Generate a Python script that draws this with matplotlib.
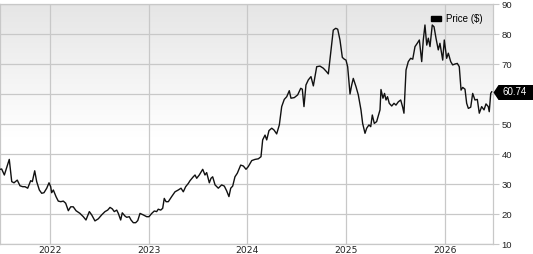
#!/usr/bin/env python3
"""Weekly share price line chart, 2021-2026."""

import matplotlib

matplotlib.use("Agg")
import matplotlib.pyplot as plt
import numpy as np
from matplotlib.patches import Patch
from matplotlib.path import Path
from matplotlib.transforms import blended_transform_factory

plt.rcParams["font.family"] = ["Liberation Sans", "DejaVu Sans"]

# decimal years and closing prices
dates = [
    2021.490, 2021.507, 2021.534, 2021.584, 2021.609, 2021.632, 2021.665, 2021.693,
    2021.720, 2021.744, 2021.771, 2021.801, 2021.818, 2021.842, 2021.862, 2021.889,
    2021.913, 2021.936, 2021.964, 2021.987, 2022.004, 2022.014, 2022.031, 2022.058,
    2022.081, 2022.106, 2022.132, 2022.156, 2022.183, 2022.207, 2022.233, 2022.261,
    2022.301, 2022.335, 2022.362, 2022.396, 2022.420, 2022.453, 2022.487, 2022.521,
    2022.555, 2022.582, 2022.606, 2022.629, 2022.649, 2022.674, 2022.690, 2022.714,
    2022.730, 2022.758, 2022.775, 2022.801, 2022.819, 2022.842, 2022.866, 2022.887,
    2022.910, 2022.943, 2022.978, 2023.001, 2023.029, 2023.055, 2023.079, 2023.095,
    2023.120, 2023.140, 2023.156, 2023.174, 2023.197, 2023.231, 2023.265, 2023.298,
    2023.326, 2023.349, 2023.373, 2023.400, 2023.417, 2023.450, 2023.468, 2023.485,
    2023.511, 2023.546, 2023.569, 2023.586, 2023.613, 2023.630, 2023.647, 2023.671,
    2023.704, 2023.738, 2023.765, 2023.789, 2023.812, 2023.830, 2023.850, 2023.873,
    2023.897, 2023.931, 2023.958, 2023.985, 2024.008, 2024.043, 2024.076, 2024.110,
    2024.137, 2024.154, 2024.178, 2024.195, 2024.218, 2024.246, 2024.269, 2024.296,
    2024.323, 2024.347, 2024.373, 2024.398, 2024.424, 2024.441, 2024.475, 2024.509,
    2024.540, 2024.556, 2024.573, 2024.593, 2024.617, 2024.644, 2024.668, 2024.702,
    2024.735, 2024.769, 2024.803, 2024.820, 2024.847, 2024.870, 2024.895, 2024.915,
    2024.938, 2024.962, 2024.982, 2024.999, 2025.016, 2025.040, 2025.057, 2025.073,
    2025.101, 2025.124, 2025.151, 2025.168, 2025.192, 2025.209, 2025.232, 2025.250,
    2025.266, 2025.286, 2025.310, 2025.344, 2025.354, 2025.374, 2025.390, 2025.405,
    2025.420, 2025.438, 2025.463, 2025.486, 2025.506, 2025.530, 2025.554, 2025.574,
    2025.587, 2025.608, 2025.631, 2025.655, 2025.676, 2025.699, 2025.722, 2025.743,
    2025.767, 2025.783, 2025.800, 2025.818, 2025.834, 2025.851, 2025.874, 2025.892,
    2025.912, 2025.935, 2025.952, 2025.980, 2025.996, 2026.020, 2026.037, 2026.061,
    2026.081, 2026.105, 2026.128, 2026.148, 2026.166, 2026.183, 2026.206, 2026.223,
    2026.240, 2026.264, 2026.284, 2026.307, 2026.331, 2026.351, 2026.375, 2026.399,
    2026.419, 2026.442, 2026.452, 2026.467, 2026.477,
]
prices = [
    34.9, 35.0, 33.0, 38.2, 30.8, 30.4, 31.3, 29.4,
    29.1, 29.1, 28.6, 31.1, 30.8, 34.4, 30.8, 28.0,
    26.9, 27.1, 28.6, 30.4, 29.1, 27.1, 28.0, 25.8,
    24.3, 24.1, 24.3, 23.6, 21.1, 22.4, 22.4, 21.1,
    20.2, 19.1, 18.0, 20.8, 19.7, 17.7, 18.4, 19.7,
    20.8, 21.3, 22.2, 21.7, 20.8, 21.3, 20.2, 18.0,
    20.4, 19.3, 18.9, 19.1, 18.0, 17.1, 17.1, 17.8,
    20.2, 19.7, 19.1, 19.1, 20.2, 21.0, 20.8, 21.6,
    21.3, 21.9, 25.2, 24.1, 24.1, 25.8, 27.4, 28.0,
    28.6, 27.4, 29.1, 30.2, 31.1, 32.4, 33.0, 31.9,
    33.0, 34.9, 33.0, 33.8, 30.4, 31.9, 32.4, 29.7,
    28.6, 29.7, 29.3, 27.7, 25.8, 28.6, 29.3, 32.4,
    33.6, 36.3, 36.0, 34.9, 35.8, 37.8, 38.2, 38.4,
    39.1, 44.7, 46.3, 44.7, 47.8, 48.6, 48.0, 46.7,
    49.7, 55.8, 58.2, 59.1, 61.1, 58.6, 58.8, 59.7,
    61.9, 61.6, 55.8, 63.0, 64.7, 65.8, 62.7, 69.1,
    69.3, 68.6, 67.4, 66.7, 74.7, 81.3, 81.9, 81.6,
    78.0, 72.2, 71.6, 71.3, 69.1, 60.0, 63.0, 65.2,
    62.4, 59.7, 54.7, 50.2, 46.9, 48.6, 49.7, 49.1,
    53.0, 50.2, 50.8, 54.7, 61.5, 58.6, 60.2, 58.0,
    59.1, 56.9, 56.0, 56.9, 56.3, 57.4, 58.0, 55.6,
    53.6, 68.0, 70.8, 71.9, 71.6, 75.8, 76.9, 78.0,
    70.8, 78.0, 83.0, 76.3, 78.6, 75.8, 83.0, 82.4,
    78.6, 74.7, 76.9, 71.3, 78.0, 71.9, 73.6, 70.8,
    69.7, 70.0, 70.2, 69.1, 61.3, 62.2, 61.6, 56.9,
    55.2, 55.6, 60.2, 58.0, 58.2, 53.6, 55.8, 54.7,
    56.7, 55.8, 54.1, 60.2, 60.74,
]
year_ticks = [2022, 2023, 2024, 2025, 2026]
price_ticks = [10, 20, 30, 40, 50, 60, 70, 80, 90]
last_label = "60.74"

GRID = "#c8c8c8"
TEXT = "#222222"

fig = plt.figure(figsize=(5.33, 2.54), dpi=100)
ax = fig.add_axes([0.0, 10 / 254, 492.5 / 533, 240 / 254])

# light gray wash at the top fading to white around mid height
frac = np.linspace(1.0, 0.0, 256)
fade = np.clip((frac - 0.45) / 0.55, 0, 1)
gray = 1.0 - 0.10 * fade
wash = np.stack([gray, gray, gray], axis=-1)[:, None, :]
ax.imshow(wash, aspect="auto", extent=[0, 1, 0, 1], transform=ax.transAxes,
          zorder=0, interpolation="bilinear")

ax.plot(dates, prices, color="#111111", linewidth=1.0, zorder=3)

ax.set_xlim(2021.49, 2026.485)
ax.set_ylim(10, 90)
ax.set_xticks(year_ticks)
ax.set_xticklabels([str(y) for y in year_ticks], family="DejaVu Sans", fontsize=6.6)
ax.set_yticks(price_ticks)
# the 60 label sits under the last-price flag
ax.set_yticklabels(["" if t == 60 else str(t) for t in price_ticks])
ax.yaxis.tick_right()
ax.tick_params(axis="y", length=4, width=0.8, color=GRID, pad=2.5,
               labelsize=6.8, labelcolor=TEXT)
ax.tick_params(axis="x", length=0, pad=1.2, labelcolor=TEXT)
ax.grid(True, color=GRID, linewidth=0.9, zorder=1)
ax.set_axisbelow(True)
for spine in ax.spines.values():
    spine.set_color(GRID)
    spine.set_linewidth(0.9)

ax.legend(handles=[Patch(facecolor="black", edgecolor="black")], labels=["Price ($)"],
          loc="upper right", bbox_to_anchor=(0.997, 0.995), frameon=False,
          fontsize=7.0, handlelength=1.0, handleheight=0.45, handletextpad=0.5)

# last-price flag: a black pentagon pointing at the right axis edge
trans = blended_transform_factory(ax.transAxes, ax.transData)
flag = Path([(0, 0), (5, 7.5), (41, 7.5), (41, -7.5), (5, -7.5), (0, 0)],
            [Path.MOVETO, Path.LINETO, Path.LINETO, Path.LINETO, Path.LINETO,
             Path.CLOSEPOLY])
ax.plot([1.0], [prices[-1]], marker=flag, markersize=59, color="black",
        markeredgewidth=0, transform=trans, clip_on=False, zorder=6)
ax.annotate(last_label, xy=(1.0, prices[-1]), xycoords=trans,
            xytext=(7.0, 0), textcoords="offset points", ha="left", va="center",
            color="white", fontsize=7.0, zorder=7, annotation_clip=False)

fig.savefig("out.png", dpi=100)
